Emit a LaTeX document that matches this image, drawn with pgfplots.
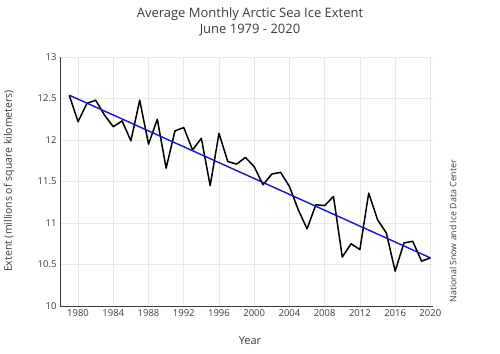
\documentclass[border=0pt]{standalone}
\usepackage{pgfplots}
\pgfplotsset{compat=1.18}
\usepackage{fontspec}
\setmainfont{Open Sans}
\definecolor{txt}{RGB}{60,60,60}
\definecolor{gridc}{RGB}{232,232,232}
\definecolor{trend}{RGB}{20,20,195}
\begin{document}
\begin{tikzpicture}[x=1pt,y=1pt]
\useasboundingbox (0,0) rectangle (500,353);
\begin{axis}[
  at={(60pt,47pt)}, anchor=south west,
  scale only axis, width=373pt, height=249pt,
  xmin=1977.95, xmax=2020.3, ymin=10, ymax=13,
  xtick={1980,1984,...,2020},
  ytick={10,10.5,11,11.5,12,12.5,13},
  yticklabels={10,10.5,11,11.5,12,12.5,13},
  xticklabel style={/pgf/number format/1000 sep={}},
  /pgf/number format/assume math mode=true,
  tick label style={font=\fontsize{9.5}{11}\selectfont, text=txt},
  grid=major, major grid style={gridc, line width=0.6pt},
  axis x line*=bottom, axis y line*=left,
  axis line style={txt, line width=0.7pt, -},
  major tick length=0pt,
  clip=false,
]
\addplot[black, line width=1.5pt, line join=round] coordinates {
(1979,12.54)(1980,12.22)(1981,12.44)(1982,12.48)(1983,12.30)(1984,12.16)
(1985,12.23)(1986,11.99)(1987,12.48)(1988,11.95)(1989,12.25)(1990,11.66)
(1991,12.11)(1992,12.15)(1993,11.88)(1994,12.02)(1995,11.45)(1996,12.08)
(1997,11.74)(1998,11.71)(1999,11.79)(2000,11.68)(2001,11.46)(2002,11.59)
(2003,11.61)(2004,11.44)(2005,11.16)(2006,10.93)(2007,11.22)(2008,11.21)
(2009,11.32)(2010,10.59)(2011,10.75)(2012,10.68)(2013,11.36)(2014,11.04)
(2015,10.88)(2016,10.42)(2017,10.76)(2018,10.78)(2019,10.54)(2020,10.58)
};
\addplot[trend, line width=1.4pt] coordinates {(1979,12.54)(2020,10.58)};
\end{axis}
\node[text=txt, font=\fontsize{13}{16}\selectfont, align=center] at (250,331.5) {Average Monthly Arctic Sea Ice Extent\\June 1979 - 2020};
\node[text=txt, font=\fontsize{11}{13}\selectfont] at (250,12) {Year};
\node[text=txt, font=\fontsize{10.5}{12}\selectfont, rotate=90] at (9,172) {Extent (millions of square kilometers)};
\node[text=txt, font=\fontsize{8.8}{10}\selectfont, rotate=90, anchor=west] at (453,47) {National Snow and Ice Data Center};
\end{tikzpicture}
\end{document}
